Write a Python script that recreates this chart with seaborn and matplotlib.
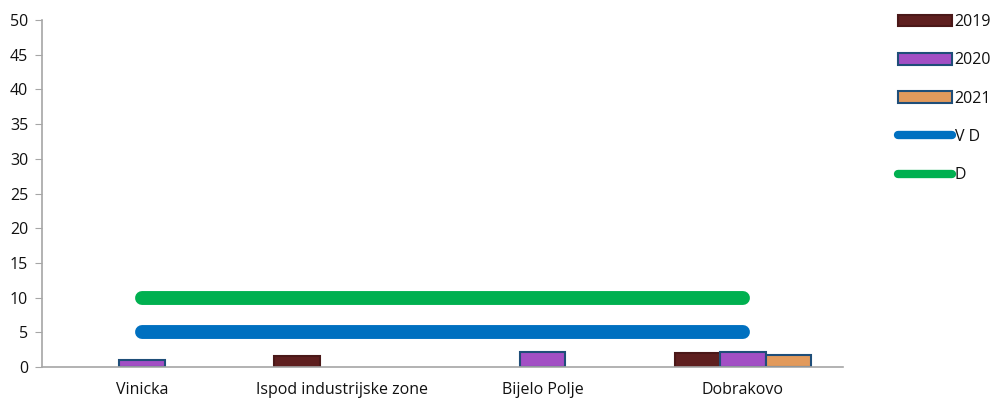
import numpy as np
import pandas as pd
import matplotlib
matplotlib.use("Agg")
import matplotlib.pyplot as plt
import seaborn as sns
from matplotlib.patches import Patch
from matplotlib.lines import Line2D

categories = ["Vinicka", "Ispod industrijske zone", "Bijelo Polje", "Dobrakovo"]
years = ["2019", "2020", "2021"]
vals_2019 = [np.nan, 1.6, np.nan, 2.0]
vals_2020 = [1.0, np.nan, 2.2, 2.1]
vals_2021 = [np.nan, np.nan, np.nan, 1.7]
vd_limit = [5, 5, 5, 5]
d_limit = [10, 10, 10, 10]
y_ticks = [0, 5, 10, 15, 20, 25, 30, 35, 40, 45, 50]

bar_colors = {"2019": "#5e1f1f", "2020": "#a24fc4", "2021": "#e29a5c"}
edge_colors = {"2019": "#4a1818", "2020": "#1f4e79", "2021": "#1f4e79"}

df = pd.DataFrame({
    "site": categories * 3,
    "year": sum([[y] * len(categories) for y in years], []),
    "value": vals_2019 + vals_2020 + vals_2021,
})

sns.set_style("white")
plt.rcParams["font.family"] = ["Open Sans", "DejaVu Sans"]
plt.rcParams["font.size"] = 11.5
plt.rcParams["text.color"] = "#111111"
plt.rcParams["xtick.labelcolor"] = "#111111"
plt.rcParams["ytick.labelcolor"] = "#111111"

fig = plt.figure(figsize=(9.95, 4.01), dpi=100)
ax = fig.add_axes([42 / 995, 34 / 401, 801 / 995, 347 / 401])

sns.barplot(data=df, x="site", y="value", hue="year", order=categories,
            hue_order=years, palette=bar_colors, width=0.68, ax=ax,
            legend=False, saturation=1)

# edge colours per year
for container, yr in zip(ax.containers, years):
    for bar in container:
        bar.set_edgecolor(edge_colors[yr])
        bar.set_linewidth(1.5)

xs = np.arange(len(categories))
ax.plot(xs, vd_limit, color="#0070c0", lw=10, solid_capstyle="round", zorder=3)
ax.plot(xs, d_limit, color="#00b050", lw=10, solid_capstyle="round", zorder=3)

ax.set_xlim(-0.5, len(categories) - 0.5)
ax.set_ylim(0, 50)
ax.set_yticks(y_ticks)
ax.set_xlabel("")
ax.set_ylabel("")

# category labels at centres, tick marks at boundaries
ax.set_xticks(xs)
ax.set_xticklabels(categories)
ax.tick_params(axis="x", which="major", length=0, pad=11, labelcolor="#111111")
ax.set_xticks(np.arange(-0.5, len(categories)), minor=True)
ax.tick_params(axis="x", which="minor", length=5, color="#a6a6a6", direction="out")
ax.tick_params(axis="y", length=5, color="#a6a6a6", direction="out", pad=5,
               left=True, labelcolor="#111111")

for side in ["top", "right"]:
    ax.spines[side].set_visible(False)
for side in ["left", "bottom"]:
    ax.spines[side].set_color("#a6a6a6")
    ax.spines[side].set_linewidth(1.2)

handles = [
    Patch(facecolor=bar_colors["2019"], edgecolor=edge_colors["2019"], lw=1.5, label="2019"),
    Patch(facecolor=bar_colors["2020"], edgecolor=edge_colors["2020"], lw=1.5, label="2020"),
    Patch(facecolor=bar_colors["2021"], edgecolor=edge_colors["2021"], lw=1.5, label="2021"),
    Line2D([], [], color="#0070c0", lw=6, solid_capstyle="round", label="V D"),
    Line2D([], [], color="#00b050", lw=6, solid_capstyle="round", label="D"),
]
fig.legend(handles=handles, loc="upper left", bbox_to_anchor=(898 / 995, 387 / 401),
           frameon=False, handlelength=3.4, handleheight=0.75, handletextpad=0.15,
           labelspacing=1.4, borderaxespad=0, borderpad=0, fontsize=11.5)

fig.savefig("out.png", dpi=100)
